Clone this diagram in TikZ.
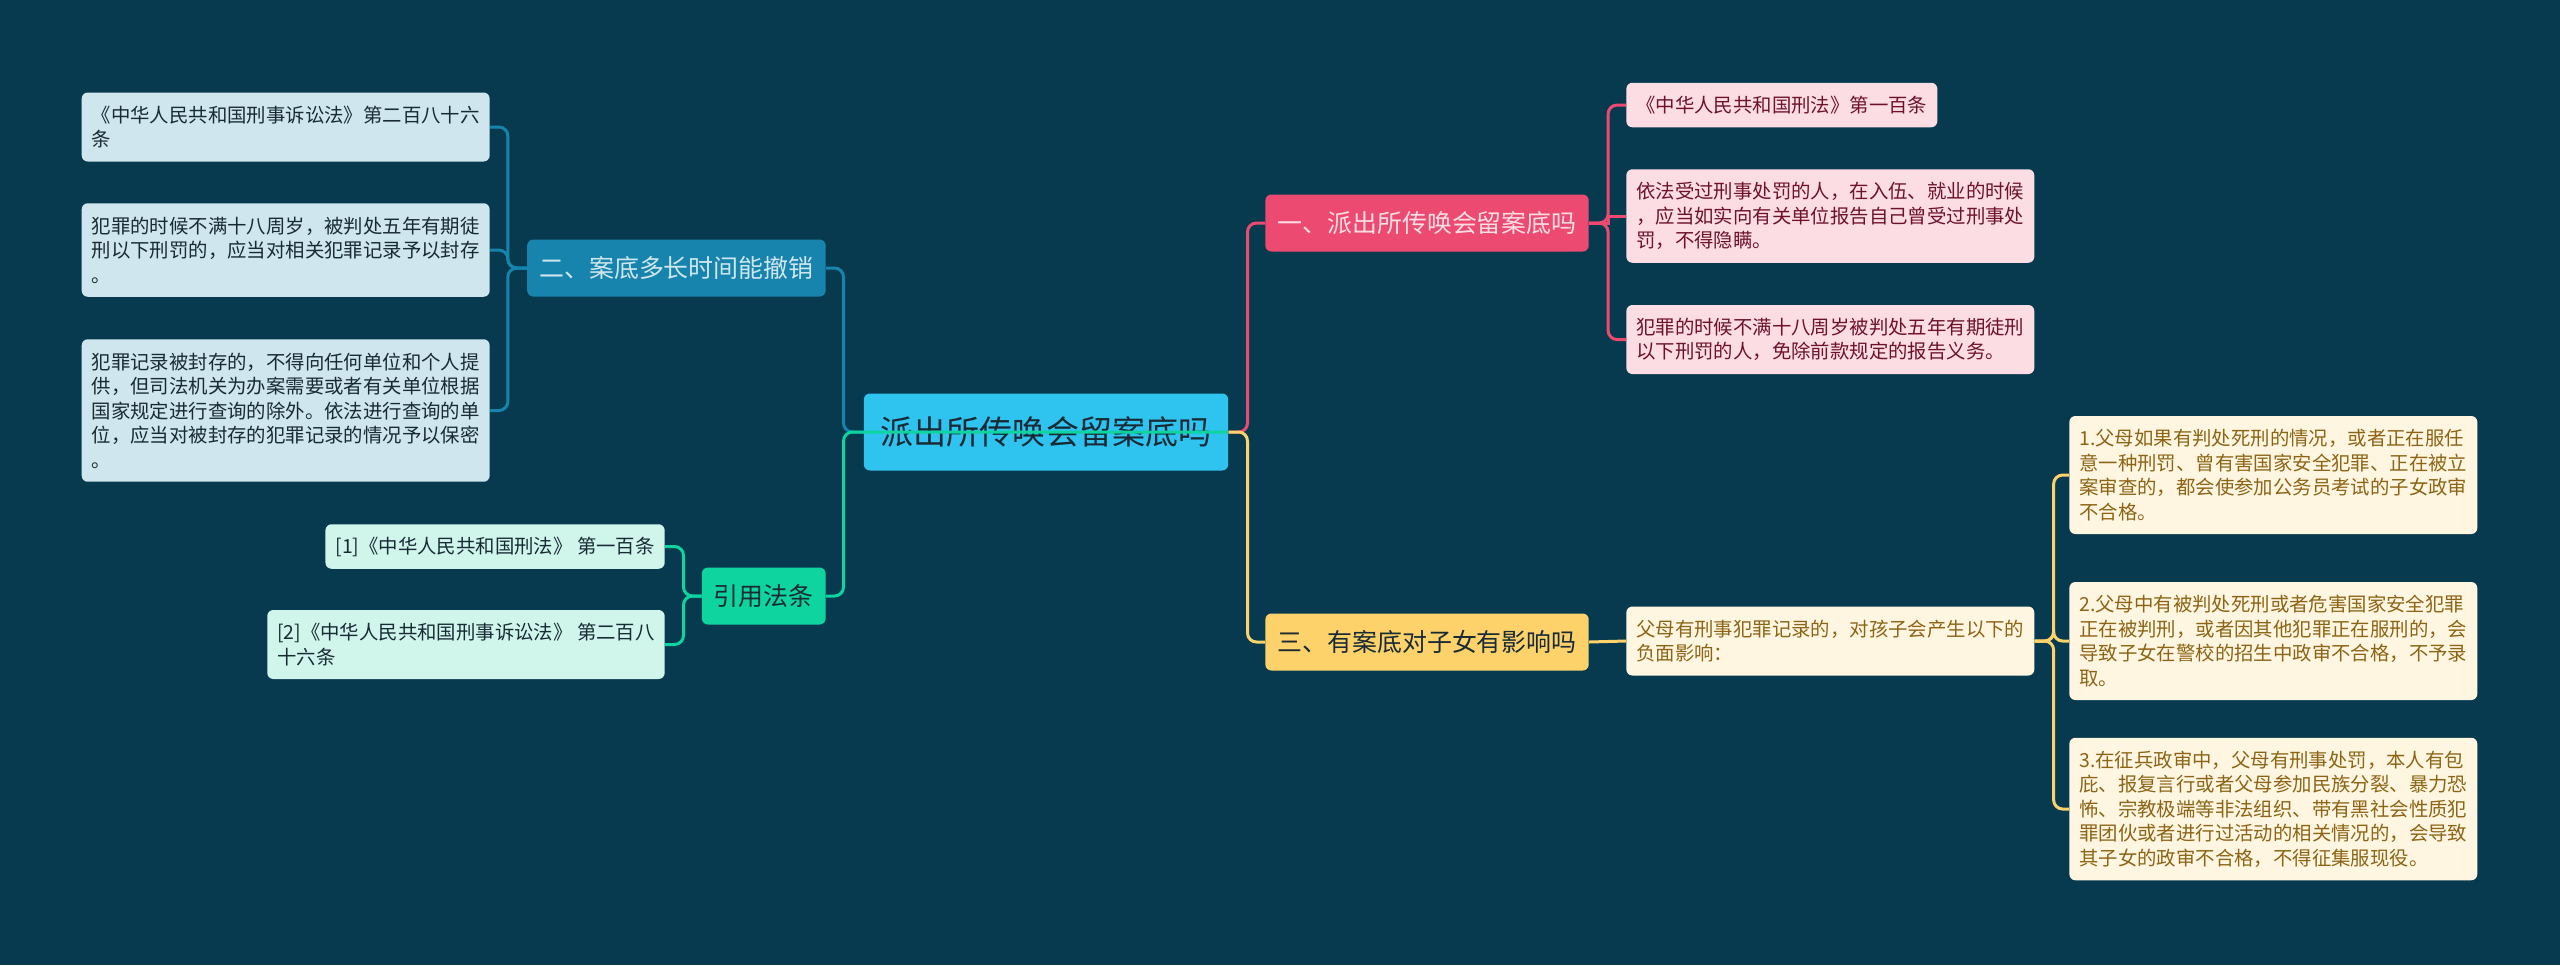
\documentclass[tikz,border=0pt]{standalone}
\usepackage{fontspec}
\newfontfamily\cjk{Noto Sans CJK SC}
\definecolor{bgc}{RGB}{7,58,79}
\definecolor{rootc}{RGB}{47,195,240}
\definecolor{inkc}{RGB}{24,42,52}
\definecolor{pinkc}{RGB}{236,74,112}
\definecolor{pinkl}{RGB}{252,221,228}
\definecolor{pinkt}{RGB}{110,18,42}
\definecolor{bluec}{RGB}{22,132,173}
\definecolor{bluel}{RGB}{207,230,238}
\definecolor{yelc}{RGB}{254,210,106}
\definecolor{yell}{RGB}{255,246,226}
\definecolor{yelt}{RGB}{140,100,20}
\definecolor{grnc}{RGB}{14,212,160}
\definecolor{grnl}{RGB}{208,246,236}

\begin{document}
\begin{tikzpicture}[x=0.02cm, y=-0.02cm,
  every node/.style={font=\cjk},
  root/.style={rounded corners=0.12cm, fill=rootc, text=inkc, inner xsep=0.34cm,
               minimum height=1.54cm, font=\cjk\fontsize{18.8pt}{22pt}\selectfont},
  br/.style={rounded corners=0.12cm, inner xsep=0.24cm, minimum height=1.14cm,
             font=\cjk\fontsize{14.2pt}{17pt}\selectfont},
  leaf/.style={rounded corners=0.12cm, align=left, inner xsep=0.2cm, inner ysep=0pt,
               font=\cjk\fontsize{11.04pt}{13.94pt}\selectfont},
  leafp/.style={leaf, fill=pinkl, text=pinkt},
  leafb/.style={leaf, fill=bluel, text=inkc},
  leafy/.style={leaf, fill=yell, text=yelt},
  leafg/.style={leaf, fill=grnl, text=inkc},
  lnk/.style={line width=0.06cm, rounded corners=0.18cm},
]
\fill[bgc] (0,0) rectangle (2560,965);
\useasboundingbox (0,0) rectangle (2560,965);

% centre and main branches
\node[root] (root) at (1046,432) {派出所传唤会留案底吗};
\node[br, fill=pinkc, text=pinkl, anchor=west] (b1) at (1265,223) {一、派出所传唤会留案底吗};
\node[br, fill=yelc, text=inkc, anchor=west] (b3) at (1265,642) {三、有案底对子女有影响吗};
\node[br, fill=bluec, text=bluel, anchor=east] (b2) at (826,268) {二、案底多长时间能撤销};
\node[br, fill=grnc, text=inkc, anchor=east] (b4) at (826,596) {引用法条};

% branch one
\node[leafp, anchor=west, minimum height=0.89cm] (p1) at (1626,105) {《中华人民共和国刑法》第一百条};
\node[leafp, anchor=west, minimum height=1.87cm] (p2) at (1626,216) {依法受过刑事处罚的人，在入伍、就业的时候\\，应当如实向有关单位报告自己曾受过刑事处\\罚，不得隐瞒。};
\node[leafp, anchor=west, minimum height=1.38cm] (p3) at (1626,339.5) {犯罪的时候不满十八周岁被判处五年有期徒刑\\以下刑罚的人，免除前款规定的报告义务。};

% branch three
\node[leafy, anchor=west, minimum height=1.38cm] (y0) at (1626,641) {父母有刑事犯罪记录的，对孩子会产生以下的\\负面影响：};
\node[leafy, anchor=west, minimum height=2.36cm] (yl1) at (2069,475) {1.父母如果有判处死刑的情况，或者正在服任\\意一种刑罚、曾有害国家安全犯罪、正在被立\\案审查的，都会使参加公务员考试的子女政审\\不合格。};
\node[leafy, anchor=west, minimum height=2.36cm] (yl2) at (2069,641) {2.父母中有被判处死刑或者危害国家安全犯罪\\正在被判刑，或者因其他犯罪正在服刑的，会\\导致子女在警校的招生中政审不合格，不予录\\取。};
\node[leafy, anchor=west, minimum height=2.85cm] (yl3) at (2069,809) {3.在征兵政审中，父母有刑事处罚，本人有包\\庇、报复言行或者父母参加民族分裂、暴力恐\\怖、宗教极端等非法组织、带有黑社会性质犯\\罪团伙或者进行过活动的相关情况的，会导致\\其子女的政审不合格，不得征集服现役。};

% branch two
\node[leafb, anchor=east, minimum height=1.38cm] (bl1) at (490,127) {《中华人民共和国刑事诉讼法》第二百八十六\\条};
\node[leafb, anchor=east, minimum height=1.87cm] (bl2) at (490,250) {犯罪的时候不满十八周岁，被判处五年有期徒\\刑以下刑罚的，应当对相关犯罪记录予以封存\\。};
\node[leafb, anchor=east, minimum height=2.85cm] (bl3) at (490,410.5) {犯罪记录被封存的，不得向任何单位和个人提\\供，但司法机关为办案需要或者有关单位根据\\国家规定进行查询的除外。依法进行查询的单\\位，应当对被封存的犯罪记录的情况予以保密\\。};

% cited articles
\node[leafg, anchor=east, minimum height=0.89cm] (g1) at (665,546.5) {[1]《中华人民共和国刑法》 第一百条};
\node[leafg, anchor=east, minimum height=1.38cm] (g2) at (665,644.5) {[2]《中华人民共和国刑事诉讼法》 第二百八\\十六条};

% connectors
\draw[lnk, bluec] (root.west) -- ++(-20,0) |- (b2.east);
\draw[lnk, grnc] (root.east) -- (root.west) -- ++(-20,0) |- (b4.east);
\draw[lnk, pinkc] (root.east) -- ++(19,0) |- (b1.west);
\draw[lnk, yelc] (root.east) -- ++(19,0) |- (b3.west);
\foreach \n in {p1,p3}
  \draw[lnk, pinkc] (b1.east) -- ++(19,0) |- (\n.west);
\draw[lnk, pinkc, sharp corners] (b1.east) -- ++(19,0) |- (p2.west);
\draw[lnk, yelc] (b3.east) -- (y0.west);
\foreach \n in {yl1,yl2,yl3}
  \draw[lnk, yelc] (y0.east) -- ++(19,0) |- (\n.west);
\foreach \n in {bl1,bl2,bl3}
  \draw[lnk, bluec] (b2.west) -- ++(-19,0) |- (\n.east);
\foreach \n in {g1,g2}
  \draw[lnk, grnc] (b4.west) -- ++(-18,0) |- (\n.east);
\end{tikzpicture}
\end{document}
